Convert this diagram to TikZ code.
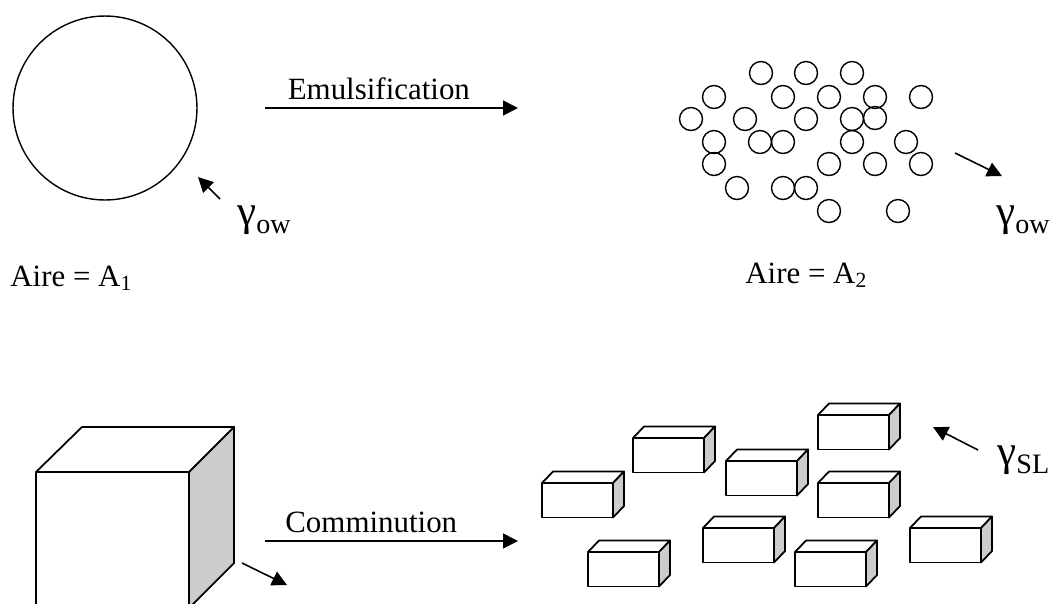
\documentclass[tikz,border=0pt]{standalone}
\usepackage{fontspec}
\setmainfont{Liberation Serif}
\usetikzlibrary{arrows.meta,positioning}
\newcommand\biggamma{{\fontsize{24.5}{26}\selectfont γ}}
\newcommand\gsub[1]{\raisebox{-0.25em}{\fontsize{16}{18}\selectfont #1}}

\begin{document}
\begin{tikzpicture}[x=0.02cm,y=-0.02cm,
    drop/.style={draw, circle, line width=0.8pt, inner sep=0pt, minimum size=0.46cm},
    flow/.style={-{Triangle[length=8.5pt,width=8.5pt]}, line width=0.9pt},
    lbl/.style={inner sep=0pt, font=\fontsize{17.6}{21}\selectfont},
    edge/.style={line width=1pt, line join=round},
    brick/.pic={
        \draw[edge, fill=white] (0,0) rectangle (71,34.5);
        \draw[edge, fill=white] (0,0) -- (11,-11.5) -- (82,-11.5) -- (71,0) -- cycle;
        \draw[edge, fill=gray!40] (71,0) -- (82,-11.5) -- (82,23) -- (71,34.5) -- cycle;
    }]
    \useasboundingbox (0,0) rectangle (1051,603);

    % top row: one big drop into many small ones
    \node[draw, circle, line width=0.8pt, inner sep=0pt, minimum size=3.68cm] (big) at (105,108) {};
    \coordinate (bigT) at (220,199);
    \coordinate (bigH) at (198,177);
    \draw [flow] (bigT) -- (bigH);
    \node[lbl, anchor=west] (gow1) at (237,220) {\biggamma\gsub{ow}};
    \node[lbl, anchor=base west] (a1) at (10,286) {Aire = A\textsubscript{1}};

    \coordinate (emA) at (265,108);
    \coordinate (emB) at (518,108);
    \draw [flow] (emA) -- node[lbl, pos=0.45, above=0.15cm] {Emulsification} (emB);

    \node[drop] (d1) at (761,73) {};
    \node[drop] (d2) at (806,73) {};
    \node[drop] (d3) at (852,73) {};
    \node[drop] (d4) at (714,97) {};
    \node[drop] (d5) at (783,97) {};
    \node[drop] (d6) at (829,97) {};
    \node[drop] (d7) at (875,97) {};
    \node[drop] (d8) at (921,97) {};
    \node[drop] (d9) at (691,119) {};
    \node[drop] (d10) at (745,119) {};
    \node[drop] (d11) at (806,119) {};
    \node[drop] (d12) at (852,119) {};
    \node[drop] (d13) at (875,118) {};
    \node[drop] (d14) at (714,142) {};
    \node[drop] (d15) at (760,142) {};
    \node[drop] (d16) at (783,142) {};
    \node[drop] (d17) at (852,142) {};
    \node[drop] (d18) at (906,142) {};
    \node[drop] (d19) at (714,164) {};
    \node[drop] (d20) at (829,164) {};
    \node[drop] (d21) at (875,164) {};
    \node[drop] (d22) at (921,164) {};
    \node[drop] (d23) at (737,188) {};
    \node[drop] (d24) at (783,188) {};
    \node[drop] (d25) at (806,188) {};
    \node[drop] (d26) at (829,211) {};
    \node[drop] (d27) at (898,211) {};

    \coordinate (smT) at (955,153);
    \coordinate (smH) at (1002,176);
    \draw [flow] (smT) -- (smH);
    \node[lbl, anchor=west] (gow2) at (996,220) {\biggamma\gsub{ow}};
    \node[lbl, anchor=base west] (a2) at (745,283) {Aire = A\textsubscript{2}};

    % bottom row: one block ground into bricks
    \draw[edge] (36,610) -- (36,472) -- (189,472) -- (189,610);
    \draw[edge] (36,472) -- (82,427) -- (234,427) -- (189,472);
    \draw[edge, fill=gray!40] (189,472) -- (234,427) -- (234,563) -- (189,608) -- cycle;
    \coordinate (cbT) at (242,563);
    \coordinate (cbH) at (287,585);
    \draw [flow] (cbT) -- (cbH);

    \coordinate (cmA) at (265,541);
    \coordinate (cmB) at (518,541);
    \draw [flow] (cmA) -- node[lbl, pos=0.42, above=0.15cm] {Comminution} (cmB);

    \pic at (542,483) {brick};
    \pic at (633,438) {brick};
    \pic at (726,461) {brick};
    \pic at (818,415) {brick};
    \pic at (818,483) {brick};
    \pic at (588,552) {brick};
    \pic at (703,528) {brick};
    \pic at (795,552) {brick};
    \pic at (910,528) {brick};

    \coordinate (slT) at (978,450);
    \coordinate (slH) at (933,427);
    \draw [flow] (slT) -- (slH);
    \node[lbl, anchor=west] (gsl) at (997,460) {\biggamma\gsub{SL}};
\end{tikzpicture}
\end{document}
